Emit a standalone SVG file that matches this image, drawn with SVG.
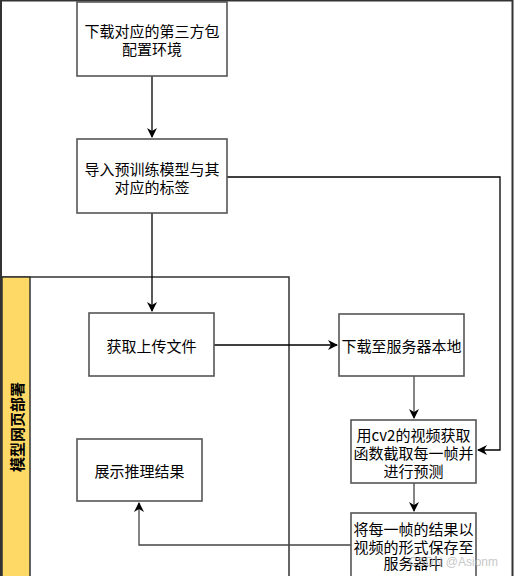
<svg xmlns="http://www.w3.org/2000/svg" width="514" height="576" viewBox="0 0 514 576">
<defs>
<style>
.box{fill:#fff;stroke:#555;stroke-width:1.6}
.t{font-family:"Noto Sans CJK SC","Liberation Sans",sans-serif;font-size:15px;fill:#000;text-anchor:middle;dominant-baseline:central}
.c{fill:none;stroke:#000;stroke-width:1.3}
.c2{fill:none;stroke:#444;stroke-width:1.3}
</style>
<marker id="a" viewBox="0 0 10 10" refX="9" refY="5" markerWidth="10" markerHeight="10" markerUnits="userSpaceOnUse" orient="auto">
<path d="M0,0 L10,5 L0,10 L3,5 Z" fill="#000"/>
</marker>
</defs>
<rect x="0" y="0" width="514" height="576" fill="#fff"/>
<path d="M1,576 V0.5 H512.5 V576" fill="none" stroke="#333" stroke-width="2"/>

<g id="lane">
<rect x="2" y="277" width="287" height="310" fill="#fff" stroke="#333" stroke-width="1.5"/>
<rect x="2" y="277" width="28" height="310" fill="#FFD966" stroke="#333" stroke-width="1.5"/>
<text class="t" transform="translate(16,427) rotate(-90)" font-weight="bold">模型网页部署</text>
</g>

<g id="connectors">
<path class="c" d="M152,76 V137" marker-end="url(#a)"/>
<path class="c" d="M152,213 V311" marker-end="url(#a)"/>
<path class="c" d="M227,177 H500 V450 H478" marker-end="url(#a)"/>
<path class="c" d="M214,345 H337" marker-end="url(#a)"/>
<path class="c2" d="M414,376 V418" marker-end="url(#a)"/>
<path class="c2" d="M414,483 V511" marker-end="url(#a)"/>
<path class="c2" d="M351,545 H139 V503" marker-end="url(#a)"/>
</g>

<g id="n1">
<rect class="box" x="77" y="2" width="150" height="74"/>
<text class="t" x="152" y="30">下载对应的第三方包</text>
<text class="t" x="152" y="48">配置环境</text>
</g>
<g id="n2">
<rect class="box" x="77" y="139" width="150" height="74"/>
<text class="t" x="152" y="168">导入预训练模型与其</text>
<text class="t" x="152" y="186">对应的标签</text>
</g>
<g id="n3">
<rect class="box" x="89" y="313" width="125" height="63"/>
<text class="t" x="151.5" y="345">获取上传文件</text>
</g>
<g id="n4">
<rect class="box" x="77" y="439" width="125" height="62"/>
<text class="t" x="139.5" y="470">展示推理结果</text>
</g>
<g id="n5">
<rect class="box" x="339" y="314" width="125" height="62"/>
<text class="t" x="401.5" y="345">下载至服务器本地</text>
</g>
<g id="n6">
<rect class="box" x="351" y="420" width="125" height="63"/>
<text class="t" x="413.5" y="434">用cv2的视频获取</text>
<text class="t" x="413.5" y="452">函数截取每一帧并</text>
<text class="t" x="413.5" y="470">进行预测</text>
</g>
<g id="n7">
<rect class="box" x="351" y="513" width="125" height="80"/>
<text class="t" x="413.5" y="528">将每一帧的结果以</text>
<text class="t" x="413.5" y="546">视频的形式保存至</text>
<text class="t" x="413.5" y="562">服务器中</text>
</g>
<text x="498" y="562" font-family="'Liberation Sans',sans-serif" font-size="12" fill="#bbb" text-anchor="end" dominant-baseline="central" opacity="0.8">CSDN @Asionm</text>
</svg>
